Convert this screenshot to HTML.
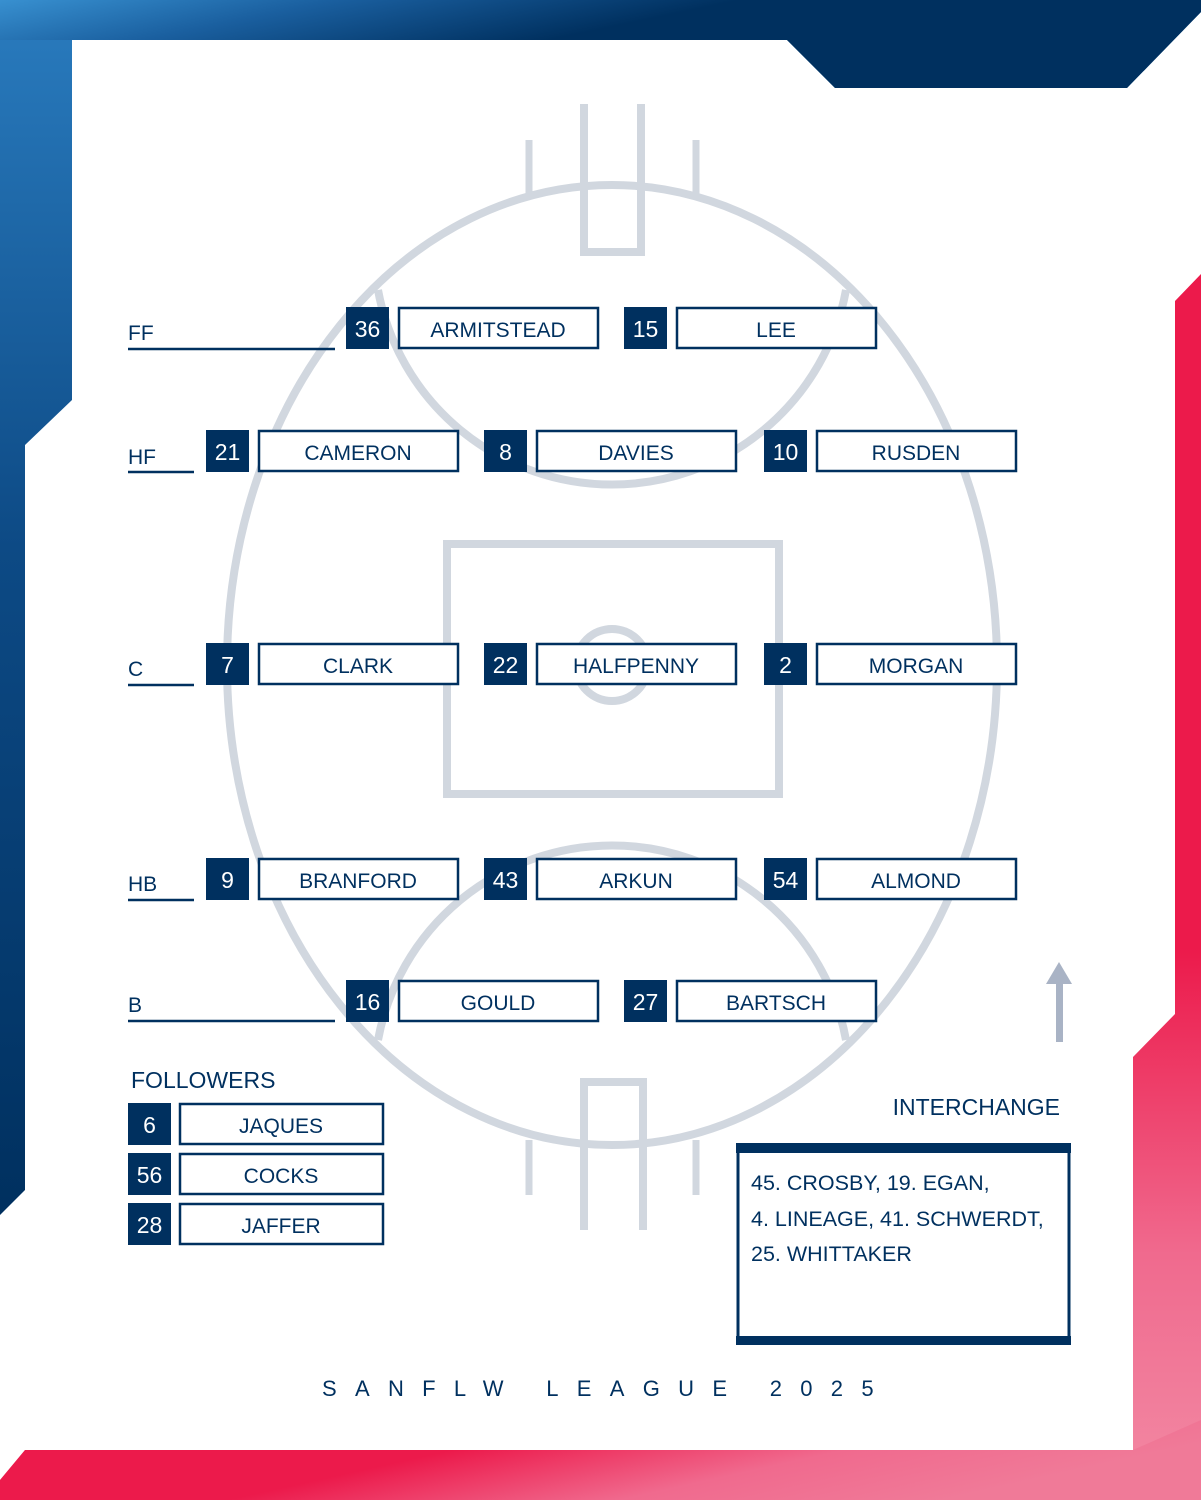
<!DOCTYPE html>
<html><head><meta charset="utf-8"><style>
html,body{margin:0;padding:0;width:1201px;height:1500px;overflow:hidden;background:#fff}
svg{display:block}
text{font-family:"Liberation Sans",sans-serif}
.n{fill:#fff;font-size:23px;text-anchor:middle}
.m{fill:#00305f;font-size:21px;text-anchor:middle}
.nb{fill:#00305f}
.bx{fill:#fff;stroke:#00305f;stroke-width:2.5}
</style></head><body>
<svg width="1201" height="1500" viewBox="0 0 1201 1500" xmlns="http://www.w3.org/2000/svg">
<defs>
<linearGradient id="bl" x1="0" y1="0" x2="1" y2="0.35">
<stop offset="0" stop-color="#3890d0"/><stop offset="0.25" stop-color="#1a5f9f"/><stop offset="0.55" stop-color="#00305f"/><stop offset="1" stop-color="#00305f"/></linearGradient>
<linearGradient id="blv" x1="0" y1="0" x2="0" y2="1">
<stop offset="0" stop-color="#2a7cbf"/><stop offset="0.45" stop-color="#0d4a85"/><stop offset="1" stop-color="#00305f"/></linearGradient>
<linearGradient id="rd" x1="0" y1="0" x2="1" y2="0.3">
<stop offset="0" stop-color="#ec1a4b"/><stop offset="0.45" stop-color="#ec1a4b"/><stop offset="0.75" stop-color="#f06a8e"/><stop offset="1" stop-color="#f07a98"/></linearGradient>
<linearGradient id="rdv" x1="0" y1="0" x2="0" y2="1">
<stop offset="0" stop-color="#ec1a4b"/><stop offset="0.55" stop-color="#ec1a4b"/><stop offset="0.8" stop-color="#f06a8e"/><stop offset="1" stop-color="#f28aa4"/></linearGradient>
</defs>
<polygon points="0,0 1201,0 1201,12 1127,88 835,88 787,40 72,40 72,400 25,445 25,1190 0,1215" fill="url(#blv)"/>
<polygon points="0,0 1201,0 1201,12 1127,88 835,88 787,40 0,40" fill="url(#bl)"/>
<polygon points="1201,274 1175,301 1175,1014 1133,1057 1133,1450 25,1450 0,1480 0,1500 1201,1500" fill="url(#rdv)"/>
<polygon points="1133,1450 25,1450 0,1480 0,1500 1201,1500 1201,1420" fill="url(#rd)"/>
<g fill="none" stroke="#d1d7df" stroke-width="8">
<ellipse cx="612" cy="665" rx="385" ry="480"/>
<path d="M378,290 A238,238 0 0 0 846,290"/>
<path d="M378,1040 A238,238 0 0 1 846,1040"/>
<rect x="447" y="544" width="332" height="250"/>
<circle cx="612" cy="665" r="36"/>
<path d="M584,104 V252 H641 V104"/>
<path d="M584,1230 V1082 H643 V1230"/>
</g>
<g stroke="#d1d7df" stroke-width="7">
<line x1="529" y1="140" x2="529" y2="195"/><line x1="696" y1="140" x2="696" y2="195"/>
<line x1="529" y1="1140" x2="529" y2="1195"/><line x1="696" y1="1140" x2="696" y2="1195"/>
</g>
<g font-size="21" fill="#00305f">
<text x="128" y="340">FF</text><text x="128" y="464">HF</text><text x="128" y="676">C</text><text x="128" y="891">HB</text><text x="128" y="1012">B</text>
</g>
<g stroke="#00305f" stroke-width="2.5">
<line x1="128" y1="349" x2="335" y2="349"/><line x1="128" y1="472" x2="194" y2="472"/>
<line x1="128" y1="685" x2="194" y2="685"/><line x1="128" y1="900" x2="194" y2="900"/>
<line x1="128" y1="1021" x2="335" y2="1021"/>
</g>

<!-- FF y=307 -->
<rect class="nb" x="346" y="307" width="43" height="42"/><text class="n" x="367.5" y="337">36</text>
<rect class="bx" x="399" y="308" width="199" height="40"/><text class="m" x="498" y="337">ARMITSTEAD</text>
<rect class="nb" x="624" y="307" width="43" height="42"/><text class="n" x="645.5" y="337">15</text>
<rect class="bx" x="677" y="308" width="199" height="40"/><text class="m" x="776" y="337">LEE</text>
<!-- HF y=430 -->
<rect class="nb" x="206" y="430" width="43" height="42"/><text class="n" x="227.5" y="460">21</text>
<rect class="bx" x="259" y="431" width="199" height="40"/><text class="m" x="358" y="460">CAMERON</text>
<rect class="nb" x="484" y="430" width="43" height="42"/><text class="n" x="505.5" y="460">8</text>
<rect class="bx" x="537" y="431" width="199" height="40"/><text class="m" x="636" y="460">DAVIES</text>
<rect class="nb" x="764" y="430" width="43" height="42"/><text class="n" x="785.5" y="460">10</text>
<rect class="bx" x="817" y="431" width="199" height="40"/><text class="m" x="916" y="460">RUSDEN</text>
<!-- C y=643 -->
<rect class="nb" x="206" y="643" width="43" height="42"/><text class="n" x="227.5" y="673">7</text>
<rect class="bx" x="259" y="644" width="199" height="40"/><text class="m" x="358" y="673">CLARK</text>
<rect class="nb" x="484" y="643" width="43" height="42"/><text class="n" x="505.5" y="673">22</text>
<rect class="bx" x="537" y="644" width="199" height="40"/><text class="m" x="636" y="673">HALFPENNY</text>
<rect class="nb" x="764" y="643" width="43" height="42"/><text class="n" x="785.5" y="673">2</text>
<rect class="bx" x="817" y="644" width="199" height="40"/><text class="m" x="916" y="673">MORGAN</text>
<!-- HB y=858 -->
<rect class="nb" x="206" y="858" width="43" height="42"/><text class="n" x="227.5" y="888">9</text>
<rect class="bx" x="259" y="859" width="199" height="40"/><text class="m" x="358" y="888">BRANFORD</text>
<rect class="nb" x="484" y="858" width="43" height="42"/><text class="n" x="505.5" y="888">43</text>
<rect class="bx" x="537" y="859" width="199" height="40"/><text class="m" x="636" y="888">ARKUN</text>
<rect class="nb" x="764" y="858" width="43" height="42"/><text class="n" x="785.5" y="888">54</text>
<rect class="bx" x="817" y="859" width="199" height="40"/><text class="m" x="916" y="888">ALMOND</text>
<!-- B y=980 -->
<rect class="nb" x="346" y="980" width="43" height="42"/><text class="n" x="367.5" y="1010">16</text>
<rect class="bx" x="399" y="981" width="199" height="40"/><text class="m" x="498" y="1010">GOULD</text>
<rect class="nb" x="624" y="980" width="43" height="42"/><text class="n" x="645.5" y="1010">27</text>
<rect class="bx" x="677" y="981" width="199" height="40"/><text class="m" x="776" y="1010">BARTSCH</text>

<!-- followers -->
<rect class="nb" x="128" y="1103" width="43" height="42"/><text class="n" x="149.5" y="1133">6</text>
<rect class="bx" x="180" y="1104" width="203" height="40"/><text class="m" x="281" y="1133">JAQUES</text>
<rect class="nb" x="128" y="1153" width="43" height="42"/><text class="n" x="149.5" y="1183">56</text>
<rect class="bx" x="180" y="1154" width="203" height="40"/><text class="m" x="281" y="1183">COCKS</text>
<rect class="nb" x="128" y="1203" width="43" height="42"/><text class="n" x="149.5" y="1233">28</text>
<rect class="bx" x="180" y="1204" width="203" height="40"/><text class="m" x="281" y="1233">JAFFER</text>

<g fill="#a9b3c5"><rect x="1056" y="982" width="7" height="60"/><polygon points="1059,962 1072,984 1046,984"/></g>
<text x="131" y="1088" font-size="23" fill="#00305f">FOLLOWERS</text>
<text x="1060" y="1115" font-size="23" fill="#00305f" text-anchor="end">INTERCHANGE</text>
<rect x="738" y="1147" width="331" height="195" fill="#fff" stroke="#00305f" stroke-width="3"/>
<rect x="736" y="1143" width="335" height="10" fill="#00305f"/>
<rect x="736" y="1336" width="335" height="9" fill="#00305f"/>
<g font-size="21.5" fill="#00305f">
<text x="751" y="1190">45. CROSBY, 19. EGAN,</text>
<text x="751" y="1226">4. LINEAGE, 41. SCHWERDT,</text>
<text x="751" y="1261">25. WHITTAKER</text>
</g>
<text x="322" y="1396" font-size="22" fill="#00305f" letter-spacing="18.3">SANFLW LEAGUE 2025</text>
</svg>
</body></html>
